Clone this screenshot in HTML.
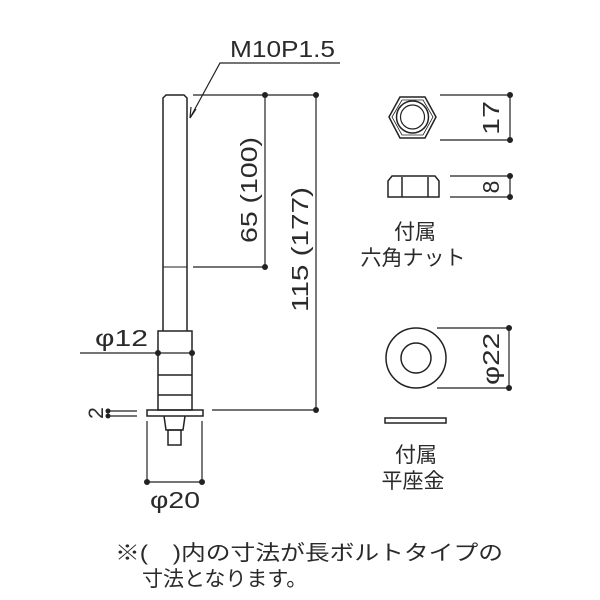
<!DOCTYPE html>
<html><head><meta charset="utf-8"><style>
html,body{margin:0;padding:0;background:#fff;}
svg{display:block}
text{font-family:"Liberation Sans","Noto Sans CJK JP",sans-serif;fill:#2a2a2a;}
</style></head><body>
<svg width="600" height="600" viewBox="0 0 600 600" xmlns="http://www.w3.org/2000/svg">
<g stroke="#222" stroke-width="1.5" fill="none">
<path d="M163,267 V98 L166,95 H184 L187,98 V267"/>
<line x1="163" y1="267" x2="187" y2="267" stroke-width="1"/>
<path d="M163,267 V331 M187,267 V331"/>
<rect x="158" y="331" width="34" height="79"/>
<line x1="158" y1="375" x2="192" y2="375"/>
<line x1="158" y1="395" x2="192" y2="395"/>
<rect x="147" y="410" width="56" height="6"/>
<path d="M164,416 L166,430 H183 L185,416"/>
<rect x="168" y="430" width="13" height="15"/>
<path d="M340,63 H220 L190,118" stroke-width="1.2"/>
<path d="M190,118 L191,107 M190,118 L196,109" stroke-width="1.2"/>
<g stroke-width="1.2">
<line x1="193" y1="95" x2="316" y2="95"/>
<line x1="193" y1="267" x2="265" y2="267"/>
<line x1="265" y1="95" x2="265" y2="267"/>
<line x1="316" y1="95" x2="316" y2="410"/>
<line x1="212" y1="410" x2="316" y2="410"/>
<line x1="80" y1="353" x2="192" y2="353"/>
<line x1="108" y1="411" x2="137" y2="411"/>
<line x1="108" y1="416" x2="137" y2="416"/>
<line x1="147" y1="421" x2="147" y2="482"/>
<line x1="202" y1="421" x2="202" y2="482"/>
<line x1="147" y1="482" x2="202" y2="482"/>
<line x1="440" y1="95" x2="510" y2="95"/>
<line x1="440" y1="140" x2="510" y2="140"/>
<line x1="510" y1="95" x2="510" y2="140"/>
<line x1="450" y1="176" x2="510" y2="176"/>
<line x1="450" y1="197" x2="510" y2="197"/>
<line x1="510" y1="176" x2="510" y2="197"/>
<line x1="437" y1="328" x2="509" y2="328"/>
<line x1="437" y1="388" x2="509" y2="388"/>
<line x1="509" y1="328" x2="509" y2="388"/>
</g>
<polygon points="389,117 400,97 425,97 436,117 425,138 400,138"/>
<polygon points="392,117 402,100 423,100 433,117 423,135 402,135" stroke-width="0.8"/>
<circle cx="412.5" cy="117" r="16"/>
<circle cx="412.5" cy="117" r="12" stroke-width="1.2"/>
<path d="M388,197 V181 L392,176 H435 L439,181 V197 Z"/>
<line x1="402" y1="177" x2="402" y2="197"/>
<line x1="428" y1="177" x2="428" y2="197"/>
<circle cx="416" cy="358" r="30"/>
<circle cx="416" cy="358" r="15"/>
<rect x="385" y="418" width="61" height="5"/>
</g>
<g fill="#222">
<circle cx="265" cy="95" r="3"/><circle cx="316" cy="95" r="3"/>
<circle cx="265" cy="267" r="3"/><circle cx="316" cy="410" r="3"/>
<circle cx="158" cy="353" r="3"/><circle cx="192" cy="353" r="3"/>
<circle cx="108" cy="411" r="2.5"/><circle cx="108" cy="416" r="2.5"/>
<circle cx="147" cy="482" r="3"/><circle cx="202" cy="482" r="3"/>
<circle cx="510" cy="95" r="3"/><circle cx="510" cy="140" r="3"/>
<circle cx="510" cy="176" r="3"/><circle cx="510" cy="197" r="3"/>
<circle cx="509" cy="328" r="3"/><circle cx="509" cy="388" r="3"/>
</g>
<text x="230" y="57" font-size="23" textLength="105" lengthAdjust="spacingAndGlyphs">M10P1.5</text>
<text transform="translate(257,137) rotate(-90)" font-size="23" text-anchor="end" textLength="106" lengthAdjust="spacingAndGlyphs">65 (100)</text>
<text transform="translate(308,312) rotate(-90)" font-size="23" textLength="125" lengthAdjust="spacingAndGlyphs">115 (177)</text>
<text x="95" y="346" font-size="23" textLength="53" lengthAdjust="spacingAndGlyphs">φ12</text>
<text transform="translate(103,413) rotate(-90)" font-size="21" text-anchor="middle">2</text>
<text x="150" y="508" font-size="23" textLength="50" lengthAdjust="spacingAndGlyphs">φ20</text>
<text transform="translate(499,135) rotate(-90)" font-size="23" textLength="34" lengthAdjust="spacingAndGlyphs">17</text>
<text transform="translate(499,187) rotate(-90)" font-size="23" text-anchor="middle">8</text>
<text transform="translate(499,385) rotate(-90)" font-size="23" textLength="52" lengthAdjust="spacingAndGlyphs">φ22</text>
<text x="415" y="239" font-size="21" text-anchor="middle">付属</text>
<text x="413" y="265" font-size="21" text-anchor="middle">六角ナット</text>
<text x="416" y="462" font-size="21" text-anchor="middle">付属</text>
<text x="413" y="488" font-size="21" text-anchor="middle">平座金</text>
<text x="115" y="560" font-size="21" textLength="388" lengthAdjust="spacingAndGlyphs">※(　)内の寸法が長ボルトタイプの</text>
<text x="142" y="586" font-size="21">寸法となります。</text>
</svg>
</body></html>
